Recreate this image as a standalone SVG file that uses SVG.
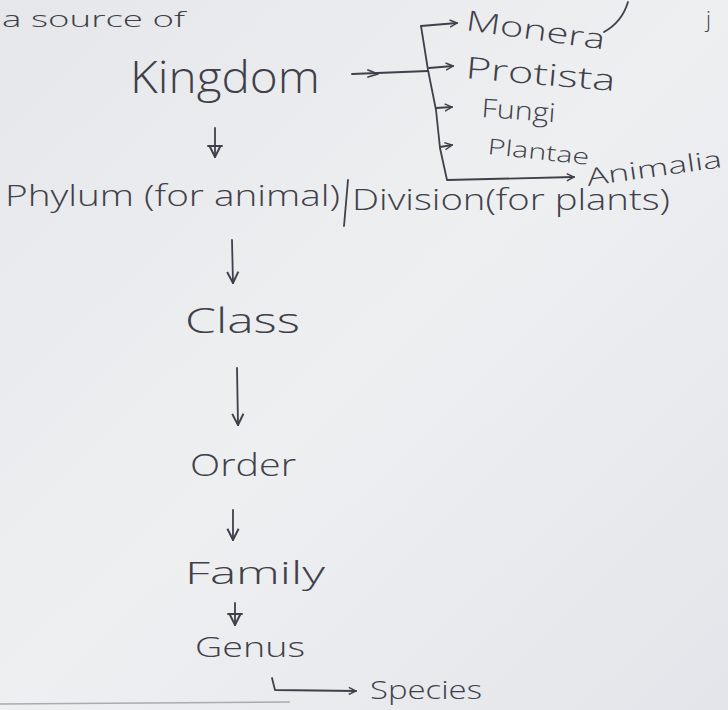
<svg xmlns="http://www.w3.org/2000/svg" width="728" height="710" viewBox="0 0 728 710">
<defs>
<linearGradient id="paper" x1="0" y1="0" x2="1" y2="1">
<stop offset="0" stop-color="#e6e7ea"/>
<stop offset="0.5" stop-color="#eeeff1"/>
<stop offset="1" stop-color="#e3e5ea"/>
</linearGradient>
<marker id="ah" viewBox="0 0 10 10" refX="9" refY="5" markerWidth="9" markerHeight="9" markerUnits="userSpaceOnUse" orient="auto">
<path d="M1,1 L9,5 L1,9" fill="none" stroke="#3f4049" stroke-width="1.6"/>
</marker>
<marker id="ahb" viewBox="0 0 10 10" refX="9" refY="5" markerWidth="14" markerHeight="14" markerUnits="userSpaceOnUse" orient="auto">
<path d="M1,1 L9,5 L1,9" fill="none" stroke="#3f4049" stroke-width="1.4"/>
</marker>
</defs>
<style>
.t{font-family:"Open Sans","DejaVu Sans",sans-serif;font-weight:300;fill:#3f4049}
.c{fill:none;stroke:#3f4049;stroke-width:1.8;stroke-linecap:round;stroke-linejoin:round}
</style>
<rect width="728" height="710" fill="url(#paper)"/>
<g id="top-cut">
<text class="t" x="2" y="27" font-size="22" textLength="183" lengthAdjust="spacingAndGlyphs">a source of</text>
<path class="c" d="M628,2 Q622,22 604,32"/>
<text class="t" x="706" y="27" font-size="22">j</text>
</g>
<g id="kingdom"><text class="t" x="130" y="93" font-size="44" textLength="190" lengthAdjust="spacingAndGlyphs">Kingdom</text></g>
<g id="monera"><text class="t" x="465" y="30" font-size="28" textLength="140" lengthAdjust="spacingAndGlyphs" transform="rotate(8 465 30)">Monera</text></g>
<g id="protista"><text class="t" x="465" y="78" font-size="30" textLength="150" lengthAdjust="spacingAndGlyphs" transform="rotate(5 465 78)">Protista</text></g>
<g id="fungi"><text class="t" x="481" y="117" font-size="26" textLength="74" lengthAdjust="spacingAndGlyphs" transform="rotate(4 481 117)">Fungi</text></g>
<g id="plantae"><text class="t" x="487" y="154" font-size="22" textLength="102" lengthAdjust="spacingAndGlyphs" transform="rotate(6 487 154)">Plantae</text></g>
<g id="animalia"><text class="t" x="588" y="186" font-size="24" textLength="136" lengthAdjust="spacingAndGlyphs" transform="rotate(-8 588 186)">Animalia</text></g>
<g id="phylum">
<text class="t" x="5" y="206" font-size="30" textLength="335" lengthAdjust="spacingAndGlyphs">Phylum (for animal)</text>
<path class="c" d="M348,180 L344,226"/>
<text class="t" x="352" y="210" font-size="30" textLength="318" lengthAdjust="spacingAndGlyphs">Division(for plants)</text>
</g>
<g id="class"><text class="t" x="185" y="333" font-size="34" textLength="115" lengthAdjust="spacingAndGlyphs">Class</text></g>
<g id="order"><text class="t" x="190" y="476" font-size="32" textLength="106" lengthAdjust="spacingAndGlyphs">Order</text></g>
<g id="family"><text class="t" x="185" y="584" font-size="32" textLength="140" lengthAdjust="spacingAndGlyphs">Family</text></g>
<g id="genus"><text class="t" x="195" y="657" font-size="28" textLength="110" lengthAdjust="spacingAndGlyphs">Genus</text></g>
<g id="species"><text class="t" x="370" y="699" font-size="26" textLength="112" lengthAdjust="spacingAndGlyphs">Species</text></g>
<g id="connectors">
<path class="c" d="M352,74 L428,71"/>
<path class="c" d="M368,70 L378,74 L368,77"/>
<path class="c" d="M421,26 L428,70 L436,110 L440,148 L447,180 L574,177" marker-end="url(#ah)"/>
<path class="c" d="M421,26 L457,23" marker-end="url(#ah)"/>
<path class="c" d="M429,68 L453,66" marker-end="url(#ah)"/>
<path class="c" d="M436,108 L452,107" marker-end="url(#ah)"/>
<path class="c" d="M440,147 L452,145" marker-end="url(#ah)"/>
<path class="c" d="M215,128 L215,157" marker-end="url(#ahb)"/>
<path class="c" d="M208,146 L222,146"/>
<path class="c" d="M232,240 L233,283" marker-end="url(#ahb)"/>
<path class="c" d="M237,368 L238,425" marker-end="url(#ahb)"/>
<path class="c" d="M233,510 L233,540" marker-end="url(#ahb)"/>
<path class="c" d="M235,603 L235,625" marker-end="url(#ahb)"/>
<path class="c" d="M228,614 L242,614"/>
<path class="c" d="M272,678 L275,690 L356,691" marker-end="url(#ah)"/>
</g>
<path d="M0,704 L290,702" stroke="#a9abb0" stroke-width="1.5" fill="none"/>
</svg>
